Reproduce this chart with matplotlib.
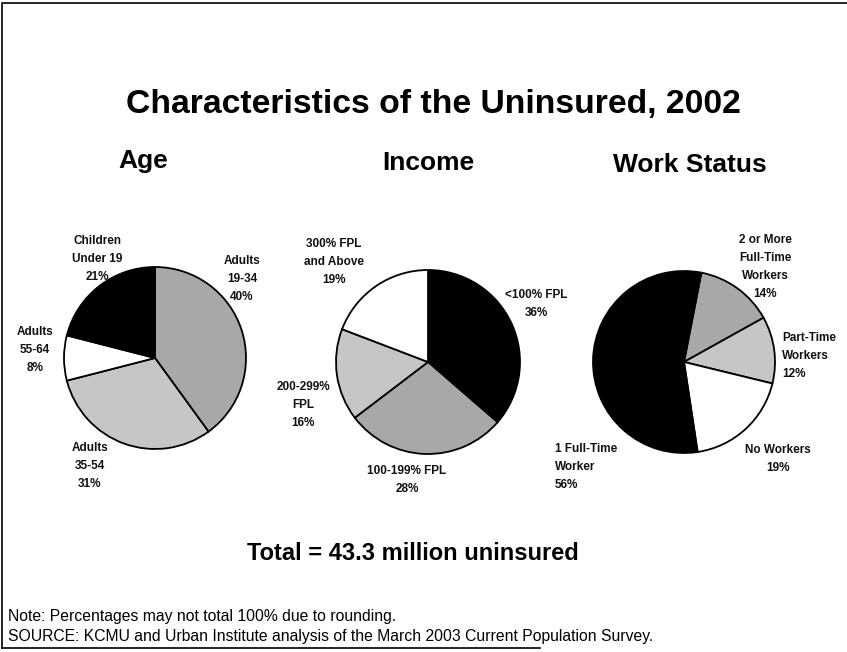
import matplotlib.pyplot as plt

W, H = 847, 652

# shares of the uninsured, in percent
age_labels = ["Adults\n19-34", "Adults\n35-54", "Adults\n55-64", "Children\nUnder 19"]
age_values = [40, 31, 8, 21]

income_labels = ["<100% FPL", "100-199% FPL", "200-299%\nFPL", "300% FPL\nand Above"]
income_values = [36, 28, 16, 19]

work_labels = ["2 or More\nFull-Time\nWorkers", "Part-Time\nWorkers", "No Workers", "1 Full-Time\nWorker"]
work_values = [14, 12, 19, 56]

DARK = "#a8a8a8"
LIGHT = "#c6c6c6"
age_colors = [DARK, LIGHT, "white", "black"]
income_colors = ["black", DARK, LIGHT, "white"]
work_colors = [DARK, LIGHT, "white", "black"]

# label placement (pixel x, pixel y from top, alignment)
age_pos = [(242, 279, "center"), (90, 466, "center"), (35, 350, "center"), (97, 259, "center")]
income_pos = [(536, 304, "center"), (407, 480, "center"), (303, 405, "center"), (334, 262, "center")]
work_pos = [(765, 267, "center"), (782, 356, "left"), (778, 459, "center"), (555, 467, "left")]

SANS = ["Liberation Sans", "DejaVu Sans"]

fig = plt.figure(figsize=(W / 100, H / 100), dpi=100)
ax = fig.add_axes([0, 0, 1, 1])


def fy(y):
    return H - y


def draw_pie(values, colors, cx, cy, r, start, labels, pos):
    ax.pie(values, colors=colors, center=(cx, fy(cy)), radius=r,
           startangle=start, counterclock=False, frame=True,
           wedgeprops=dict(edgecolor="black", linewidth=1.3))
    for lab, v, (x, y, ha) in zip(labels, values, pos):
        ax.text(x, fy(y), f"{lab}\n{v}%", ha=ha, va="center", fontsize=8.5,
                fontweight="bold", family=SANS, linespacing=1.65, color="#111111")


draw_pie(age_values, age_colors, 155, 358, 91, 90, age_labels, age_pos)
draw_pie(income_values, income_colors, 428, 362, 92, 90, income_labels, income_pos)
draw_pie(work_values, work_colors, 684, 362, 91, 79, work_labels, work_pos)

ax.text(433, fy(113), "Characteristics of the Uninsured, 2002", ha="center", va="baseline",
        fontsize=24.3, fontweight="bold", family=SANS)
for txt, x, y in [("Age", 143, 168), ("Income", 428, 170), ("Work Status", 690, 172)]:
    ax.text(x, fy(y), txt, ha="center", va="baseline", fontsize=19,
            fontweight="bold", family=SANS)

ax.text(413, fy(553), "Total = 43.3 million uninsured", ha="center", va="center",
        fontsize=17, fontweight="bold", family=SANS)

ax.text(8, fy(617), "Note: Percentages may not total 100% due to rounding.",
        ha="left", va="center", fontsize=11.3, family=SANS)
ax.text(8, fy(636), "SOURCE: KCMU and Urban Institute analysis of the March 2003 Current Population Survey.",
        ha="left", va="center", fontsize=11.3, family=SANS)

# slide border
ax.plot([2, 2, W], [fy(648), fy(3), fy(3)], color="black", lw=1.2)
ax.plot([2, 540], [fy(648), fy(648)], color="black", lw=1.2)

ax.set_xlim(0, W)
ax.set_ylim(0, H)
ax.set_aspect("auto")
ax.axis("off")

fig.savefig("out.png", dpi=100)
